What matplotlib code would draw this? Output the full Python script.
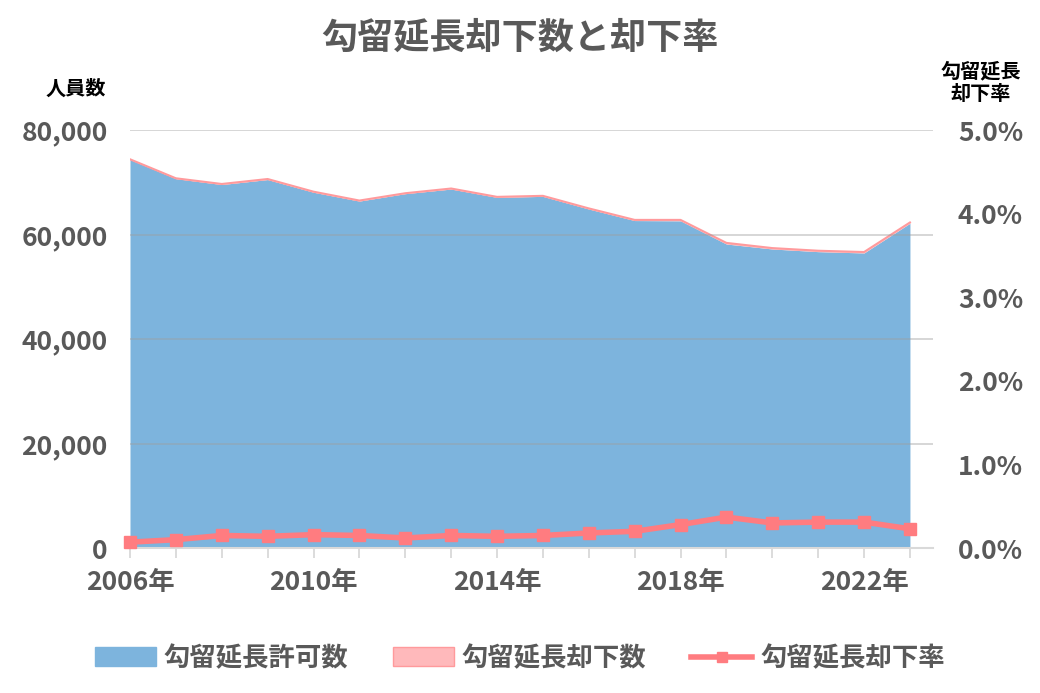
import matplotlib.pyplot as plt
from matplotlib.ticker import FuncFormatter, MultipleLocator
from matplotlib.patches import Patch
from matplotlib.lines import Line2D

plt.rcParams['font.family'] = ['Noto Sans CJK JP', 'DejaVu Sans']

# data
years = list(range(2006, 2024))
kyoka = [74350, 70690, 69565, 70520, 68090, 66400, 67820, 68700, 67110,
         67300, 64880, 62670, 62620, 58180, 57230, 56720, 56470, 62160]
kyakka = [51, 71, 105, 101, 109, 100, 79, 103, 94,
          101, 117, 126, 176, 216, 172, 176, 176, 143]
rate = [0.07, 0.10, 0.15, 0.14, 0.16, 0.15, 0.12, 0.15, 0.14,
        0.15, 0.18, 0.20, 0.28, 0.37, 0.30, 0.31, 0.31, 0.23]
label_years = [2006, 2010, 2014, 2018, 2022]

grey = '#595959'
blue = '#7DB4DD'
pink_fill = '#FFB9BB'
pink_edge = '#FF9A9C'
pink_line = '#FF7C80'
grid_col = '#D9D9D9'

fig = plt.figure(figsize=(10.4, 6.93), dpi=100)
ax = fig.add_axes([0.125, 0.2092, 0.772, 0.6032])

total = [a + b for a, b in zip(kyoka, kyakka)]
ax.fill_between(years, 0, kyoka, color=blue, lw=0, zorder=1)
ax.fill_between(years, kyoka, total, color=pink_fill, lw=0, zorder=1)
ax.plot(years, total, color=pink_edge, lw=1.5, zorder=2)

ax.set_xlim(2006, 2023.5)
ax.set_ylim(0, 80000)
ax.yaxis.set_major_locator(MultipleLocator(20000))
ax.yaxis.set_major_formatter(FuncFormatter(lambda v, p: f'{int(v):,}'))
for v in range(20000, 80001, 20000):
    ax.axhline(v, color='#9E9E9E', lw=1.3, alpha=0.45, zorder=3)

ax.set_xticks(years)
ax.set_xticklabels([f'{y}年' if y in label_years else '' for y in years])
ax.tick_params(axis='x', length=7, width=1.3, color=grid_col, colors=grey,
               labelsize=19, pad=8)
ax.tick_params(axis='y', length=0, labelcolor=grey, labelsize=19, pad=16)
for lab in ax.get_xticklabels() + ax.get_yticklabels():
    lab.set_fontweight('bold')
    lab.set_color(grey)

for s in ['top', 'right', 'left']:
    ax.spines[s].set_visible(False)
ax.spines['bottom'].set_color(grid_col)
ax.spines['bottom'].set_linewidth(1.5)
ax.spines['bottom'].set_zorder(4)

ax2 = ax.twinx()
ax2.plot(years, rate, color=pink_line, lw=4, marker='s', ms=9,
         zorder=5, clip_on=False)
ax2.set_ylim(0, 5)
ax2.yaxis.set_major_locator(MultipleLocator(1))
ax2.yaxis.set_major_formatter(FuncFormatter(lambda v, p: f'{v:.1f}%'))
ax2.tick_params(axis='y', length=0, labelsize=19, pad=18)
for lab in ax2.get_yticklabels():
    lab.set_fontweight('bold')
    lab.set_color(grey)
for s in ax2.spines.values():
    s.set_visible(False)

fig.text(0.5, 0.945, '勾留延長却下数と却下率', ha='center', va='center',
         fontsize=26, fontweight='bold', color=grey)
fig.text(0.073, 0.873, '人員数', ha='center', va='center',
         fontsize=14.5, fontweight='bold', color='black')
fig.text(0.943, 0.882, '勾留延長\n却下率', ha='center', va='center',
         fontsize=14.5, fontweight='bold', color='black', linespacing=1.1)

handles = [Patch(facecolor=blue, edgecolor=blue),
           Patch(facecolor=pink_fill, edgecolor=pink_edge),
           Line2D([0], [0], color=pink_line, lw=4, marker='s', ms=7)]
labels = ['勾留延長許可数', '勾留延長却下数', '勾留延長却下率']
leg = fig.legend(handles, labels, loc='center', bbox_to_anchor=(0.5, 0.05),
                 ncol=3, frameon=False, fontsize=19, handlelength=2.3,
                 handleheight=0.7, columnspacing=1.7, handletextpad=0.3)
for t in leg.get_texts():
    t.set_color(grey)
    t.set_fontweight('bold')

fig.savefig('out.png', dpi=100)
